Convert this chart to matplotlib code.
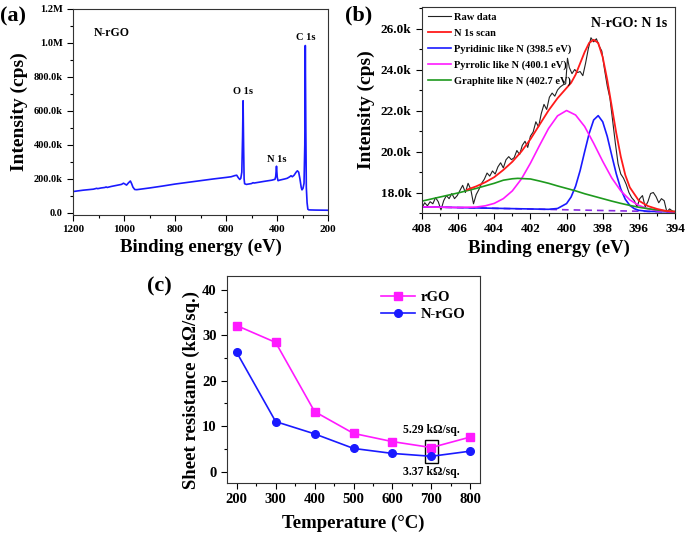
import matplotlib
matplotlib.use("Agg")
import matplotlib.pyplot as plt
from matplotlib.ticker import MultipleLocator, FuncFormatter
from matplotlib.patches import Rectangle

plt.rcParams['font.family'] = ['Liberation Serif', 'DejaVu Serif']
plt.rcParams['font.weight'] = 'bold'
plt.rcParams['axes.labelweight'] = 'bold'

# ---------------- (a) survey spectrum ----------------
survey_energy = [1200, 1180, 1160, 1140, 1120, 1107, 1103, 1090, 1075, 1070, 1066, 1050, 1030, 1010,
                 1002, 996, 990, 982, 975, 970, 965, 958, 950, 900, 850, 800, 750, 700, 650, 600,
                 580, 565, 558, 552, 546, 542, 538, 535, 533, 531, 529, 527, 520, 500, 494, 490,
                 470, 450, 420, 408, 405, 402, 399, 396, 390, 370, 360, 350, 345, 340, 333, 325,
                 320, 315, 310, 305, 302, 298, 294, 291, 289, 287, 285, 282, 279, 275, 250, 200]
survey_counts = [126, 130, 134, 137, 140, 145, 143, 147, 150, 153, 150, 156, 162, 168,
                 175, 170, 164, 178, 188, 172, 152, 138, 137, 147, 158, 170, 180, 190, 200, 209,
                 213, 220, 222, 208, 197, 204, 240, 450, 660, 400, 200, 172, 168, 173, 178, 176,
                 181, 186, 193, 198, 215, 275, 210, 190, 193, 200, 204, 213, 219, 213, 222, 240,
                 248, 240, 200, 150, 136, 145, 175, 400, 985, 500, 150, 60, 22, 18, 17, 16]
survey_labels = ["O 1s", "N 1s", "C 1s"]

# ---------------- (b) N 1s high resolution ----------------
raw_energy = [408.0, 407.85, 407.7, 407.55, 407.4, 407.25, 407.1, 406.95, 406.8, 406.65, 406.5, 406.35,
              406.2, 406.05, 405.9, 405.75, 405.6, 405.45, 405.3, 405.15, 405.0, 404.85, 404.7, 404.55,
              404.4, 404.25, 404.1, 403.95, 403.8, 403.65, 403.5, 403.35, 403.2, 403.05, 402.9, 402.75,
              402.6, 402.45, 402.3, 402.15, 402.0, 401.85, 401.7, 401.55, 401.4, 401.25, 401.1, 400.95,
              400.8, 400.65, 400.5, 400.35, 400.2, 400.05, 399.95, 399.85, 399.7, 399.55, 399.4, 399.25,
              399.1, 398.95, 398.8, 398.65, 398.5, 398.35, 398.2, 398.05, 397.9, 397.75, 397.6, 397.45,
              397.3, 397.15, 397.0, 396.85, 396.7, 396.55, 396.4, 396.25, 396.1, 395.95, 395.8, 395.65,
              395.5, 395.35, 395.2, 395.05, 394.9, 394.75, 394.6, 394.45, 394.3, 394.15, 394.0]
raw_counts = [17.25, 17.5, 17.35, 17.55, 17.45, 17.75, 17.55, 17.15, 17.6, 17.85, 17.7, 17.95,
              17.7, 17.85, 18.1, 18.35, 18.0, 18.45, 18.15, 17.45, 17.9, 18.15, 18.45, 18.65,
              18.95, 18.8, 19.05, 18.9, 19.25, 19.45, 19.2, 19.6, 19.75, 19.6, 19.7, 20.05,
              19.85, 20.3, 20.5, 20.2, 20.75, 20.95, 21.45, 21.2, 21.85, 22.3, 22.05, 22.65,
              22.85, 22.7, 23.0, 23.15, 23.25, 23.3, 24.55, 24.1, 23.8, 24.0, 23.85, 23.9,
              23.7, 24.3, 25.0, 25.55, 25.35, 25.5, 25.15, 24.9, 24.0, 23.2, 22.6, 21.5,
              20.4, 19.4, 18.9, 18.7, 18.4, 18.0, 17.75, 17.6, 17.3, 17.7, 17.85, 17.3,
              17.55, 17.95, 18.0, 17.8, 17.5, 17.7, 17.6, 17.05, 17.2, 17.1, 17.0]

fit_energy = [405.5, 405.0, 404.5, 404.0, 403.5, 403.0, 402.5, 402.0, 401.5, 401.0, 400.5, 400.0, 399.75,
              399.5, 399.25, 399.0, 398.75, 398.5, 398.25, 398.0, 397.75, 397.5, 397.25, 397.0,
              396.75, 396.5, 396.0, 395.5, 395.0, 394.5, 394.0]
fit_counts = [18.14, 18.3, 18.5, 18.75, 19.1, 19.5, 20.0, 20.6, 21.3, 22.0, 22.6, 23.1, 23.35,
              23.75, 24.3, 24.85, 25.3, 25.45, 25.3, 24.6, 23.5, 22.2, 20.9, 19.75,
              18.85, 18.25, 17.6, 17.34, 17.2, 17.1, 17.07]

pyridinic_energy = [408.0, 404.0, 401.0, 400.5, 400.0, 399.75, 399.5, 399.25, 399.0, 398.75, 398.5,
                    398.25, 398.0, 397.75, 397.5, 397.25, 397.0, 396.75, 396.5, 396.25, 396.0,
                    395.5, 394.0]
pyridinic_counts = [17.30, 17.23, 17.18, 17.22, 17.46, 17.78, 18.31, 19.07, 19.99, 20.88, 21.54,
                    21.75, 21.45, 20.74, 19.81, 18.91, 18.17, 17.67, 17.37, 17.21, 17.13,
                    17.08, 17.05]

pyrrolic_energy = [408.0, 406.0, 405.0, 404.5, 404.0, 403.5, 403.0, 402.5, 402.0, 401.5, 401.0, 400.5,
                   400.0, 399.5, 399.0, 398.5, 398.0, 397.5, 397.0, 396.5, 396.0, 395.5, 395.0, 394.0]
pyrrolic_counts = [17.30, 17.27, 17.29, 17.35, 17.47, 17.70, 18.08, 18.66, 19.43, 20.29, 21.12, 21.74,
                   22.0, 21.78, 21.22, 20.4, 19.52, 18.71, 18.08, 17.64, 17.37, 17.21, 17.11, 17.05]

graphitic_energy = [408.0, 407.0, 406.0, 405.0, 404.0, 403.5, 403.0, 402.7, 402.0, 401.5, 401.0, 400.5,
                    400.0, 399.5, 399.0, 398.5, 398.0, 397.5, 397.0, 396.5, 396.0, 395.5, 395.0,
                    394.5, 394.0]
graphitic_counts = [17.58, 17.78, 17.98, 18.2, 18.45, 18.6, 18.67, 18.69, 18.66, 18.56, 18.45, 18.32,
                    18.20, 18.08, 17.94, 17.82, 17.70, 17.58, 17.47, 17.37, 17.28, 17.21, 17.15,
                    17.10, 17.07]

background_energy = [408.0, 394.0]
background_counts = [17.30, 17.05]

component_names = ["Raw data", "N 1s scan", "Pyridinic like N (398.5 eV)",
                   "Pyrrolic like N (400.1 eV)", "Graphite like N (402.7 eV)"]

# ---------------- (c) sheet resistance ----------------
temperature = [200, 300, 400, 500, 600, 700, 800]
rgo_resistance = [32.1, 28.4, 13.2, 8.4, 6.6, 5.29, 7.6]
nrgo_resistance = [26.2, 11.0, 8.3, 5.1, 4.0, 3.37, 4.5]
series_names = ["rGO", "N-rGO"]

# ======================================================
fig = plt.figure(figsize=(6.85, 5.34), dpi=100)
W, H = 685, 534

def ax_at(l, t, r, b):
    return fig.add_axes([l / W, 1 - b / H, (r - l) / W, (b - t) / H])

def style(ax, size):
    ax.tick_params(direction='out', which='both', labelsize=size, width=0.8)
    ax.tick_params(which='major', length=4)
    ax.tick_params(which='minor', length=2)
    for lab in ax.get_xticklabels() + ax.get_yticklabels():
        lab.set_fontweight('bold')
    for s in ax.spines.values():
        s.set_linewidth(0.8)
        s.set_color('#333333')

# (a)
axa = ax_at(73, 9, 328, 215)
axa.plot(survey_energy, [c * 1000 for c in survey_counts], color='#1a1aff', lw=1.2)
axa.set_xlim(1200, 200)
axa.set_ylim(-12000, 1200000)
axa.xaxis.set_major_locator(MultipleLocator(200))
axa.xaxis.set_minor_locator(MultipleLocator(100))
axa.yaxis.set_major_locator(MultipleLocator(200000))
axa.yaxis.set_minor_locator(MultipleLocator(100000))

def fmt_a(v, pos):
    if abs(v) < 1:
        return "0.0"
    if v >= 1e6:
        return f"{v/1e6:.1f}M"
    return f"{v/1e3:.1f}k"
axa.yaxis.set_major_formatter(FuncFormatter(fmt_a))
style(axa, 8)
axa.tick_params(axis='y', labelsize=7.5)
axa.set_xlabel("Binding energy (eV)", fontsize=13.5, fontweight='bold', labelpad=3)
axa.set_ylabel("Intensity (cps)", fontsize=14, fontweight='bold', labelpad=4)
axa.text(0.08, 0.87, "N-rGO", transform=axa.transAxes, fontsize=8.5, fontweight='bold')
axa.text(532, 700000, survey_labels[0], ha='center', fontsize=7.5, fontweight='bold')
axa.text(400, 300000, survey_labels[1], ha='center', fontsize=7.5, fontweight='bold')
axa.text(287, 1020000, survey_labels[2], ha='center', fontsize=7.5, fontweight='bold')
fig.text(0 / W, 1 - 21 / H, "(a)", fontsize=16, fontweight='bold', va='baseline')

# (b)
axb = ax_at(422, 7, 675, 213)
k = 1000
axb.plot(background_energy, [c * k for c in background_counts], color='#8a2be2', lw=1.2,
         ls=(0, (4, 3)))
l_raw, = axb.plot(raw_energy, [c * k for c in raw_counts], color='#222222', lw=0.8)
l_pyr, = axb.plot(pyridinic_energy, [c * k for c in pyridinic_counts], color='#1a1aff', lw=1.2)
l_pyo, = axb.plot(pyrrolic_energy, [c * k for c in pyrrolic_counts], color='#ff1aff', lw=1.2)
l_gra, = axb.plot(graphitic_energy, [c * k for c in graphitic_counts], color='#1e9a1e', lw=1.2)
l_fit, = axb.plot(fit_energy, [c * k for c in fit_counts], color='#ff1a1a', lw=1.3)
axb.set_xlim(408, 394)
axb.set_ylim(17000, 27050)
axb.xaxis.set_major_locator(MultipleLocator(2))
axb.xaxis.set_minor_locator(MultipleLocator(1))
axb.yaxis.set_major_locator(MultipleLocator(2000))
axb.yaxis.set_minor_locator(MultipleLocator(1000))
axb.yaxis.set_major_formatter(FuncFormatter(lambda v, p: f"{v/1e3:.1f}k"))
style(axb, 9.5)
axb.set_xlabel("Binding energy (eV)", fontsize=13.5, fontweight='bold', labelpad=3)
axb.set_ylabel("Intensity (cps)", fontsize=14, fontweight='bold', labelpad=4)
axb.legend([l_raw, l_fit, l_pyr, l_pyo, l_gra], component_names, loc='upper left',
           frameon=False, prop={'size': 7.5, 'weight': 'bold'}, handlelength=2.2,
           handletextpad=0.3, labelspacing=0.62, borderaxespad=0.1, borderpad=0.45)
axb.text(0.97, 0.95, "N-rGO: N 1s", transform=axb.transAxes, ha='right', va='top',
         fontsize=10, fontweight='bold')
fig.text(345 / W, 1 - 20 / H, "(b)", fontsize=16, fontweight='bold', va='baseline')

# (c)
axc = ax_at(227, 276, 480, 483)
axc.plot(temperature, rgo_resistance, color='#ff1aff', marker='s', ms=5.5, lw=1.2,
         label=series_names[0])
axc.plot(temperature, nrgo_resistance, color='#1a1aff', marker='o', ms=5.5, lw=1.2,
         label=series_names[1])
axc.set_xlim(175, 825)
axc.set_ylim(-2.5, 43)
axc.xaxis.set_major_locator(MultipleLocator(100))
axc.xaxis.set_minor_locator(MultipleLocator(50))
axc.yaxis.set_major_locator(MultipleLocator(10))
axc.yaxis.set_minor_locator(MultipleLocator(5))
style(axc, 10.5)
axc.set_xlabel("Temperature (°C)", fontsize=13.5, fontweight='bold', labelpad=6)
axc.set_ylabel("Sheet resistance (kΩ/sq.)", fontsize=13.5, fontweight='bold', labelpad=6)
axc.yaxis.set_label_coords(-0.105, 0.45)
axc.legend(loc='upper right', frameon=False, prop={'size': 10.5, 'weight': 'bold'},
           handlelength=2.3, handletextpad=0.4, labelspacing=0.3, borderaxespad=0.6)
axc.add_patch(Rectangle((683, 1.8), 33, 5.2, fill=False, edgecolor='black', lw=1.0))
axc.text(700, 8.4, f"{rgo_resistance[5]:.2f} kΩ/sq.", ha='center', fontsize=8.5, fontweight='bold')
axc.text(700, 0.0, f"{nrgo_resistance[5]:.2f} kΩ/sq.", ha='center', va='center', fontsize=8.5,
         fontweight='bold')
fig.text(147 / W, 1 - 291 / H, "(c)", fontsize=16, fontweight='bold', va='baseline')

fig.savefig("out.png", dpi=100)
